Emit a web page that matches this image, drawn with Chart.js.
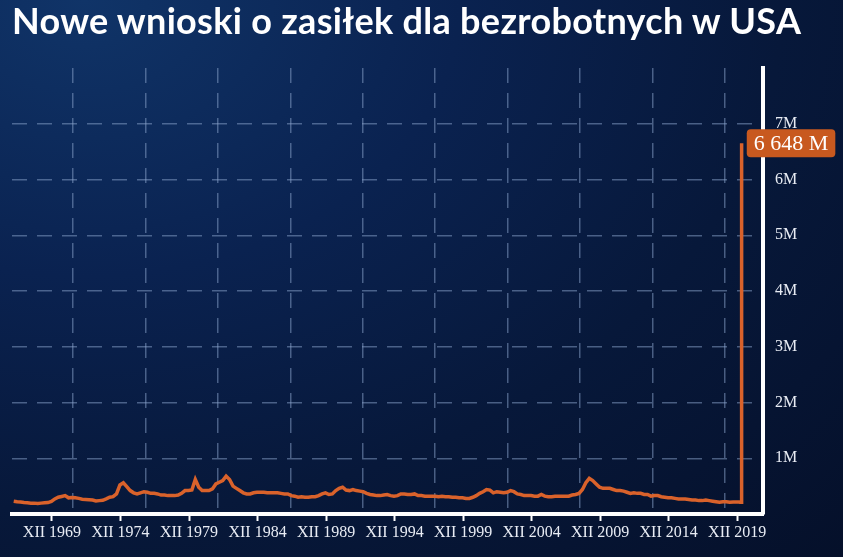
<!DOCTYPE html>
<html><head><meta charset="utf-8">
<script src="https://cdn.jsdelivr.net/npm/chart.js@4"></script>
<style>
html,body{margin:0;padding:0;width:843px;height:557px;overflow:hidden;}
body{background:radial-gradient(ellipse at 10% 0%,#103468 0%,#0a2250 35%,#07183a 65%,#05102a 100%);position:relative;}
#t{position:absolute;left:12px;top:-2px;color:#fff;font:700 36px Lato,"Open Sans",sans-serif;letter-spacing:0.3px;white-space:nowrap;}
#c{position:absolute;left:0;top:0;}
</style></head><body>
<canvas id="c" width="843" height="557"></canvas>
<div id="t">Nowe wnioski o zasiłek dla bezrobotnych w USA</div>
<script>
// quarterly average initial claims, thousands, 1967..2019
const years = [1967,1968,1969,1970,1971,1972,1973,1974,1975,1976,1977,1978,1979,1980,1981,1982,1983,1984,1985,1986,1987,1988,1989,1990,1991,1992,1993,1994,1995,1996,1997,1998,1999,2000,2001,2002,2003,2004,2005,2006,2007,2008,2009,2010,2011,2012,2013,2014,2015,2016,2017,2018,2019];
const quarterly = [
[230,220,215,205],[200,195,195,190],[195,200,205,225],[270,300,315,330],[290,295,290,280],
[265,260,255,250],[235,240,245,270],[300,310,360,520],[560,490,420,380],[360,380,400,390],
[370,370,360,340],[340,330,330,330],[340,370,420,420],[430,620,480,420],[420,420,450,540],
[570,600,680,620],[500,460,420,380],[360,360,380,390],[390,390,380,380],[380,380,370,360],
[360,330,320,300],[310,300,300,310],[310,330,360,380],[350,360,420,460],[480,430,420,440],
[420,410,400,370],[350,340,330,330],[340,350,330,320],[330,360,360,350],[350,360,330,330],
[320,320,320,320],[310,320,310,310],[300,300,290,290],[280,280,300,330],[370,400,440,430],
[380,400,390,380],[390,420,400,360],[350,330,330,330],[320,320,350,320],[310,310,320,320],
[320,320,320,340],[350,370,440,560],[640,600,540,480],[460,460,460,440],[420,420,410,390],
[370,380,370,370],[350,350,320,330],[330,310,300,290],[290,280,270,270],[270,260,250,250],
[240,240,250,240],[230,220,210,220],[220,210,215,215]];
const tail2020x = [2020.05,2020.13,2020.2,2020.23,2020.25];
const tail2020 = [215,210,211,3307,6648];
const tickYears = [1969,1974,1979,1984,1989,1994,1999,2004,2009,2014,2019];
const yTicks = [1,2,3,4,5,6,7];
const lastLabel = "6 648 M";

const pts = [];
years.forEach((y,i)=>quarterly[i].forEach((v,q)=>pts.push({x:y+q*0.25+0.125,y:v/1000})));
tail2020x.forEach((x,i)=>pts.push({x:x,y:tail2020[i]/1000}));

const gridCol='rgba(140,165,205,0.5)';
const labelPlugin={id:'lbl',afterDatasetsDraw(ch){
  const m=ch.getDatasetMeta(0);const p=m.data[m.data.length-1];
  const ctx=ch.ctx;ctx.save();
  ctx.font='22px "Liberation Serif",serif';
  const w=ctx.measureText(lastLabel).width+14,h=28,x=p.x+5,y=p.y-h/2;
  ctx.fillStyle='#c8591f';ctx.beginPath();ctx.roundRect(x,y,w,h,4);ctx.fill();
  ctx.fillStyle='#fff';ctx.textBaseline='middle';ctx.fillText(lastLabel,x+7,p.y+1);
  ctx.restore();}};

new Chart(document.getElementById('c'),{
 type:'scatter',
 data:{datasets:[{data:pts,showLine:true,borderColor:'#d9622b',borderWidth:3.5,pointRadius:0,tension:0}]},
 plugins:[labelPlugin],
 options:{responsive:false,animation:false,
  layout:{padding:{left:12,top:68,right:0,bottom:0}},
  plugins:{legend:{display:false},tooltip:{enabled:false}},
  scales:{
   x:{type:'linear',min:1967,max:2021.8,position:'bottom',
     afterBuildTicks(s){s.ticks=tickYears.map(v=>({value:v+0.917}));},
     afterFit(s){s.height=43;},
     ticks:{color:'#e8ecf4',font:{family:'"Liberation Serif",serif',size:16},maxRotation:0,autoSkip:false,padding:2,
       callback:(v)=>'XII '+Math.round(v-0.917)},
     grid:{drawOnChartArea:false,color:'#fff',tickLength:7,tickWidth:2},
     border:{display:true,color:'#fff',width:4}},
   xg:{type:'linear',min:1967,max:2021.8,position:'bottom',display:true,
     afterBuildTicks(s){const a=[];for(let v=1971.45;v<2021;v+=5.285)a.push({value:v});s.ticks=a;},
     afterFit(s){s.height=0;},
     ticks:{display:false},
     grid:{drawTicks:false,color:gridCol,lineWidth:1.5},
     border:{display:false,dash:[15,10]}},
   y:{type:'linear',min:0,max:8,position:'right',
     afterBuildTicks(s){s.ticks=yTicks.map(v=>({value:v}));},
     afterFit(s){s.width=80;},
     ticks:{color:'#e8ecf4',font:{family:'"Liberation Serif",serif',size:16},padding:12,callback:v=>v+'M'},
     grid:{drawTicks:false,color:gridCol,lineWidth:1.5},
     border:{display:true,color:'#fff',width:4,dash:[15,10]}}
  }}});
</script></body></html>
